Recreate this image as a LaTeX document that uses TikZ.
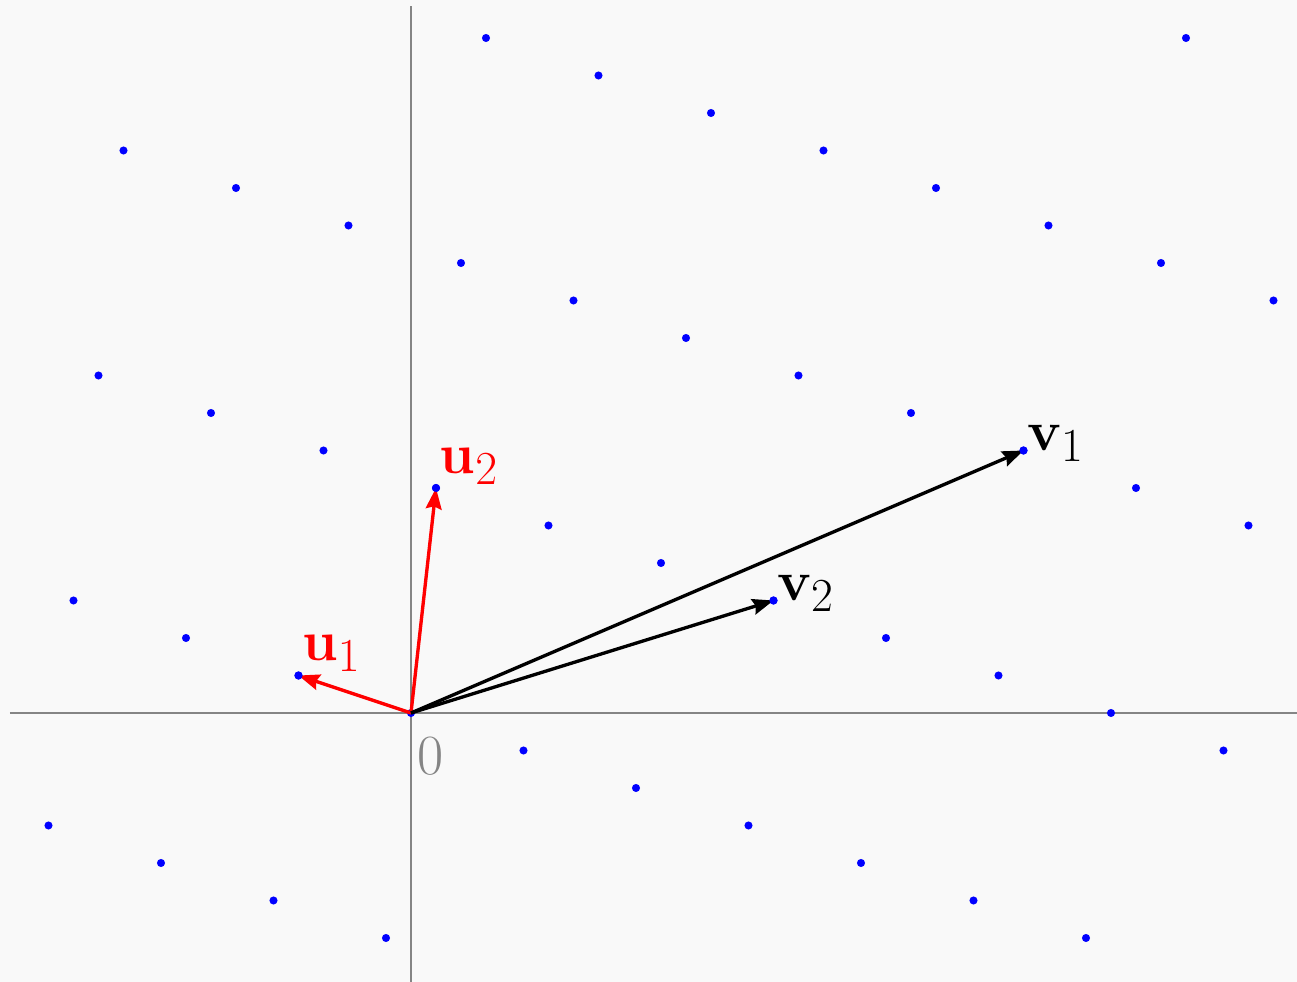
\documentclass[tikz,border=0pt]{standalone}
\usepackage{amsmath}
\usepackage{tikz}
\usetikzlibrary{arrows.meta}
\definecolor{bgcol}{HTML}{F9F9F9}
\definecolor{axiscol}{HTML}{858585}

\begin{document}
\begin{tikzpicture}[x=0.25cm, y=0.25cm,
    axis/.style={draw=axiscol, line width=1.1pt},
    dot/.style={fill=blue},
    vec/.style={line width=1.9pt, -{Stealth[length=12pt, width=9pt, inset=1.5pt]}},
    lbl/.style={inner sep=1.5pt, font=\Huge, scale=1.3}
]
% background and frame
\fill[bgcol] (-32.88,-21.52) rectangle (70.88,57.04);
\useasboundingbox (-32.88,-21.52) rectangle (70.88,57.04);

% axes
\draw[axis] (-32.08,0) -- (70.88,0);
\draw[axis] (0,-21.52) -- (0,56.56);

% lattice points a*u1 + b*u2
\foreach \a in {-20,...,20}
  \foreach \b in {-3,...,5} {
    \pgfmathtruncatemacro\px{-9*\a+2*\b}
    \pgfmathtruncatemacro\py{3*\a+18*\b}
    \pgfmathtruncatemacro\ok{and(and(\px>-31.5,\px<70.5),and(\py>-20,\py<56))}
    \ifnum\ok=1 \fill[dot] (\px,\py) circle (2.3pt); \fi
  }

\coordinate (O) at (0,0);
\coordinate (u1) at (-9,3);
\coordinate (u2) at (2,18);
\coordinate (v1) at (49,21);
\coordinate (v2) at (29,9);

% basis vectors
\draw[vec, red] (O) -- (u1);
\draw[vec, red] (O) -- (u2);
\draw[vec, black] (O) -- (v1);
\draw[vec, black] (O) -- (v2);
\foreach \p in {u1,u2,v1,v2}
  \fill[dot] (\p) circle (2.3pt);

% labels
\node[lbl, red, anchor=south west] (lu1) at (u1) {$\mathbf{u}_1$};
\node[lbl, red, anchor=south west] (lu2) at (u2) {$\mathbf{u}_2$};
\node[lbl, anchor=base west] (lv1) at (v1) {$\mathbf{v}_1$};
\node[lbl, anchor=base west] (lv2) at (v2) {$\mathbf{v}_2$};
\node[lbl, text=axiscol] (zero) at (1.55,-3.45) {0};
\end{tikzpicture}
\end{document}
